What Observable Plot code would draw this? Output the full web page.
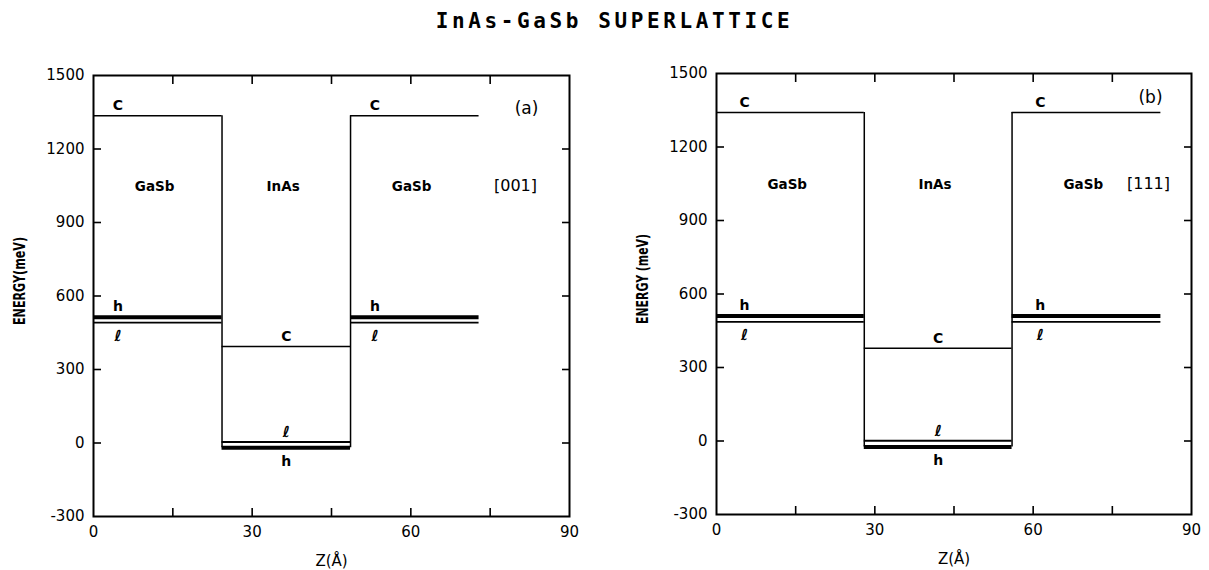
<!DOCTYPE html>
<html><head><meta charset="utf-8">
<script src="https://cdn.jsdelivr.net/npm/d3@7"></script>
<script src="https://cdn.jsdelivr.net/npm/@observablehq/plot@0.6"></script>
<style>
body{margin:0;background:#fff;width:1209px;height:570px;position:relative;overflow:hidden;font-family:"DejaVu Sans",sans-serif;}
#title{position:absolute;left:20px;top:9px;width:1189px;text-align:center;font-family:"DejaVu Sans Mono",monospace;font-weight:bold;font-size:21px;letter-spacing:3.6px;color:#000;}
#a{position:absolute;left:0;top:40px}
#b{position:absolute;left:605px;top:40px}
svg{overflow:visible}
</style></head><body>
<div id="title">InAs-GaSb SUPERLATTICE</div>
<div id="a"></div><div id="b"></div>
<script>
// ---- data ----
const xTickLabels = [0, 30, 60, 90];
const xMinorTicks = [15, 30, 45, 60, 75];
const yTickLabels = [-300, 0, 300, 600, 900, 1200, 1500];
const yMinorTicks = [0, 300, 600, 900, 1200];
const layers = ["GaSb", "InAs", "GaSb"];
const bands = ["C", "h", "ℓ"];

// panel (a) [001]
const aBounds = [0, 24.3, 48.6, 72.9];
const aGaSbLevels = [1336, 513, 491];   // C, h, ℓ
const aInAsLevels = [394, -19, 4];      // C, h, ℓ
// panel (b) [111]
const bBounds = [0, 28, 56, 84.2];
const bGaSbLevels = [1341, 510, 486];
const bInAsLevels = [379, -24, 1];

const regionLabelEnergy = 1048;

function panel(el, bounds, gasb, inas, tag, dir, m, yLabel) {
  const segs = [];
  layers.forEach((layer, i) => {
    const lv = layer === "GaSb" ? gasb : inas;
    bands.forEach((b, j) => segs.push({layer, band: b, x1: bounds[i], x2: bounds[i + 1], E: lv[j]}));
  });
  const width = b => b === "h" ? 4 : b === "ℓ" ? 1.8 : 1.5;
  const labs = segs.map(s => {
    const inAs = s.layer === "InAs";
    const x = inAs ? (s.x1 + s.x2) / 2 : s.x1 + 0.19 * (s.x2 - s.x1);
    let dy;
    if (s.band === "C") dy = -10;
    else if (s.band === "h") dy = inAs ? 14 : -11;
    else dy = inAs ? -10 : 13;
    return {...s, x, dy};
  });
  const dyGroups = Array.from(new Set(labs.map(d => d.dy)));
  const labelMarks = dyGroups.flatMap(dy => {
    const g = labs.filter(d => d.dy === dy);
    return [
      Plot.text(g.filter(d => d.band !== "ℓ"), {x: "x", y: "E", text: "band", dy, fontSize: 14, fontWeight: 600, fill: "#000"}),
      Plot.text(g.filter(d => d.band === "ℓ"), {x: "x", y: "E", text: "band", dy, fontSize: 15, fontWeight: 600, fontStyle: "italic", fill: "#000"})
    ];
  });
  const regions = layers.map((l, i) => ({l, x: (bounds[i] + bounds[i + 1]) / 2 - 0.6}));
  const verts = [bounds[1], bounds[2]];
  const ch = Plot.plot({
    width: m.w, height: 530,
    marginLeft: m.l, marginRight: m.r, marginTop: m.t, marginBottom: m.b,
    x: {domain: [0, 90]},
    y: {domain: [-300, 1500]},
    style: {fontFamily: "DejaVu Sans, sans-serif", color: "#000", background: "transparent"},
    marks: [
      Plot.frame({stroke: "#000", strokeWidth: 2}),
      Plot.axisX({anchor: "bottom", ticks: xTickLabels, tickFormat: d => String(d), tickSize: 0, tickPadding: 10, fontSize: 15,
        label: "Z(Å)", labelAnchor: "center", labelArrow: "none", labelOffset: 49}),
      Plot.axisX({anchor: "bottom", ticks: xMinorTicks, tickSize: -8, text: null, label: null, strokeWidth: 1.6}),
      Plot.axisX({anchor: "top", ticks: xMinorTicks, tickSize: -8, text: null, label: null, strokeWidth: 1.6}),
      Plot.axisY({anchor: "left", ticks: yTickLabels, tickFormat: d => String(d), tickSize: 0, tickPadding: 9, fontSize: 15,
        label: yLabel, labelAnchor: "center", labelArrow: "none", labelOffset: 79}),
      Plot.axisY({anchor: "left", ticks: yMinorTicks, tickSize: -8, text: null, label: null, strokeWidth: 1.6}),
      Plot.axisY({anchor: "right", ticks: yMinorTicks, tickSize: -8, text: null, label: null, strokeWidth: 1.6}),
      Plot.ruleX(verts, {x: d => d, y1: inas[1], y2: gasb[0], stroke: "#000", strokeWidth: 1.5}),
      Plot.ruleY(segs, {y: "E", x1: "x1", x2: "x2", stroke: "#000", strokeWidth: d => width(d.band)}),
      ...labelMarks,
      Plot.text(regions, {x: "x", y: () => regionLabelEnergy, text: "l", fontSize: 13.5, fontWeight: 600, fill: "#000"}),
      Plot.text([dir], {frameAnchor: "right", y: () => regionLabelEnergy, text: d => d, dx: -m.dirDx, fontSize: 16, fill: "#000", textAnchor: "middle"}),
      Plot.text([tag], {frameAnchor: "top-right", text: d => d, dx: -m.tagDx, dy: m.tagDy, fontSize: 17, fill: "#000", textAnchor: "middle"})
    ]
  });
  ch.querySelectorAll("g[aria-label='y-axis label'] text").forEach(t => {
    t.setAttribute("font-weight", "bold");
    t.setAttribute("font-size", "15");
    t.setAttribute("textLength", m.labLen);
    t.setAttribute("lengthAdjust", "spacingAndGlyphs");
    t.setAttribute("dx", "15");
  });
  ch.querySelectorAll("g[aria-label='x-axis label'] text").forEach(t => t.setAttribute("font-size", "15"));
  document.getElementById(el).appendChild(ch);
}

panel("a", aBounds, aGaSbLevels, aInAsLevels, "(a)", "[001]",
  {w: 600, l: 93, r: 31, t: 35, b: 54, tagDx: 43, tagDy: 26, dirDx: 54, labLen: 88}, "ENERGY(meV)");
panel("b", bBounds, bGaSbLevels, bInAsLevels, "(b)", "[111]",
  {w: 604, l: 111, r: 18, t: 33, b: 56, tagDx: 41, tagDy: 17, dirDx: 43, labLen: 90}, "ENERGY (meV)");
</script>
</body></html>
